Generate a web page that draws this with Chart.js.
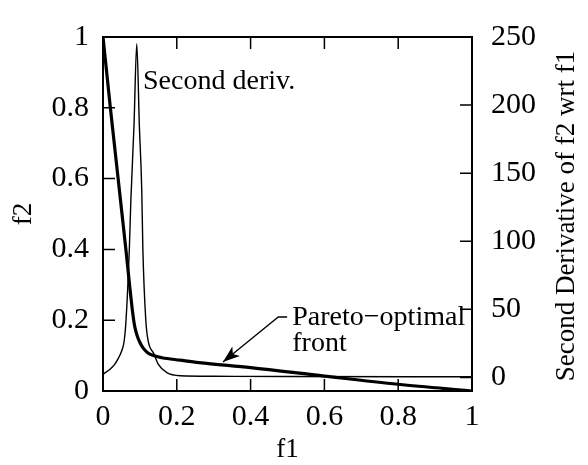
<!DOCTYPE html>
<html><head><meta charset="utf-8">
<script src="https://cdn.jsdelivr.net/npm/chart.js@4.4.1/dist/chart.umd.min.js"></script>
<style>html,body{margin:0;padding:0;background:#fff;}#wrap{width:588px;height:465px;}</style>
</head><body><div id="wrap"><canvas id="c" width="588" height="465"></canvas></div>
<script>
// Pareto-optimal front (f1, f2)
const frontF1 = [0, 0.02, 0.041, 0.062, 0.072, 0.08, 0.086, 0.093, 0.1, 0.109, 0.12, 0.137, 0.16, 0.209, 0.26, 0.4, 0.6, 0.8, 1.0];
const frontF2 = [1, 0.8, 0.6, 0.4, 0.3, 0.225, 0.182, 0.155, 0.137, 0.121, 0.109, 0.1, 0.094, 0.087, 0.08, 0.066, 0.042, 0.019, 0];
// Second derivative of f2 wrt f1
const derivF1  = [0, 0.019, 0.03, 0.0415, 0.05, 0.057, 0.0624, 0.0714, 0.0755, 0.084, 0.0915, 0.0985, 0.105, 0.108, 0.116, 0.123, 0.137, 0.15, 0.173, 0.209, 0.3, 0.5, 1.0];
const derivVal = [2.4, 6, 9, 14, 19, 26, 42, 94.5, 130, 185, 245, 185, 138, 94.5, 42, 26, 17.8, 9.5, 3.5, 1.2, 0.8, 0.6, 0.5];
// tick values
const f1Ticks = [0, 0.2, 0.4, 0.6, 0.8, 1];
const f2Ticks = [0, 0.2, 0.4, 0.6, 0.8, 1];
const derivTicks = [0, 50, 100, 150, 200, 250];
// texts
const xTitle = 'f1';
const yTitle = 'f2';
const y2Title = 'Second Derivative of f2 wrt f1';
const derivLabel = 'Second deriv.';
const frontLabel = ['Pareto\u2212optimal', 'front'];

const FONT = '"Liberation Serif", "Times New Roman", serif';
const FS = 27;   // titles
const TS = 30;   // tick labels
const AS = 28;   // annotations

const frontData = frontF1.map((x, i) => ({x, y: frontF2[i]}));
const derivData = derivF1.map((x, i) => ({x, y: derivVal[i]}));

const setTicks = arr => s => { s.ticks = arr.map(v => ({value: v})); };
const fmt = v => String(Math.round(v * 1000) / 1000);

const decor = {
  id: 'decor',
  afterDraw(chart) {
    const {ctx, chartArea: a, scales} = chart;
    const X = scales.x, Y = scales.y, Y2 = scales.y2;
    ctx.save();
    ctx.strokeStyle = '#000';
    ctx.fillStyle = '#000';
    // inward ticks
    ctx.lineWidth = 1.5;
    const T = 12;
    ctx.beginPath();
    f1Ticks.forEach(v => {
      const px = X.getPixelForValue(v);
      ctx.moveTo(px, a.bottom); ctx.lineTo(px, a.bottom - T);
      ctx.moveTo(px, a.top); ctx.lineTo(px, a.top + T);
    });
    f2Ticks.forEach(v => {
      const py = Y.getPixelForValue(v);
      ctx.moveTo(a.left, py); ctx.lineTo(a.left + T, py);
    });
    derivTicks.forEach(v => {
      const py = Y2.getPixelForValue(v);
      ctx.moveTo(a.right, py); ctx.lineTo(a.right - T, py);
    });
    ctx.stroke();
    // frame
    ctx.lineWidth = 2;
    ctx.strokeRect(a.left, a.top, a.right - a.left, a.bottom - a.top);

    // titles
    ctx.font = FS + 'px ' + FONT;
    ctx.textAlign = 'center';
    ctx.textBaseline = 'middle';
    ctx.fillText(xTitle, (a.left + a.right) / 2, 450);
    const cy = (a.top + a.bottom) / 2;
    ctx.save(); ctx.translate(24, cy); ctx.rotate(-Math.PI / 2); ctx.fillText(yTitle, 0, 0); ctx.restore();
    ctx.font = '27px ' + FONT;
    ctx.save(); ctx.translate(567, cy + 2); ctx.rotate(-Math.PI / 2); ctx.fillText(y2Title, 0, 0); ctx.restore();

    // annotations (baseline anchored)
    ctx.font = AS + 'px ' + FONT;
    ctx.textAlign = 'left';
    ctx.textBaseline = 'alphabetic';
    ctx.fillText(derivLabel, X.getPixelForValue(0.1085), Y.getPixelForValue(0.853));
    const lx = X.getPixelForValue(0.513);
    ctx.fillText(frontLabel[0], lx, Y.getPixelForValue(0.1856));
    ctx.fillText(frontLabel[1], lx, Y.getPixelForValue(0.113));
    // arrow
    const p0 = [X.getPixelForValue(0.499), Y.getPixelForValue(0.209)];
    const p1 = [X.getPixelForValue(0.475), Y.getPixelForValue(0.209)];
    const tip = [X.getPixelForValue(0.325), Y.getPixelForValue(0.082)];
    ctx.lineWidth = 1.3;
    ctx.beginPath(); ctx.moveTo(p0[0], p0[1]); ctx.lineTo(p1[0], p1[1]); ctx.lineTo(tip[0], tip[1]); ctx.stroke();
    const ang = Math.atan2(tip[1] - p1[1], tip[0] - p1[0]);
    const L = 17, W = 6;
    const bx = tip[0] - L * Math.cos(ang), by = tip[1] - L * Math.sin(ang);
    const nx = -Math.sin(ang) * W, ny = Math.cos(ang) * W;
    const ix = tip[0] - L * 0.75 * Math.cos(ang), iy = tip[1] - L * 0.75 * Math.sin(ang);
    ctx.beginPath();
    ctx.moveTo(tip[0], tip[1]);
    ctx.lineTo(bx + nx, by + ny);
    ctx.lineTo(ix, iy);
    ctx.lineTo(bx - nx, by - ny);
    ctx.closePath(); ctx.fill();
    ctx.restore();
  }
};

new Chart(document.getElementById('c'), {
  type: 'line',
  data: {
    datasets: [
      {label: 'front', data: frontData, xAxisID: 'x', yAxisID: 'y', borderColor: '#000', borderWidth: 3.2, pointRadius: 0, cubicInterpolationMode: 'monotone', fill: false},
      {label: 'deriv', data: derivData, xAxisID: 'x', yAxisID: 'y2', borderColor: '#000', borderWidth: 1.4, pointRadius: 0, cubicInterpolationMode: 'monotone', fill: false}
    ]
  },
  options: {
    responsive: false,
    animation: false,
    devicePixelRatio: 1,
    layout: {padding: {top: 23, left: 0, right: 0, bottom: 0}},
    plugins: {legend: {display: false}, tooltip: {enabled: false}},
    scales: {
      x: {
        type: 'linear', position: 'bottom', min: 0, max: 1,
        afterBuildTicks: setTicks(f1Ticks),
        afterFit: s => { s.height = 74; },
        grid: {display: false, drawTicks: false}, border: {display: false},
        ticks: {color: '#000', font: {family: FONT, size: TS}, padding: 8, maxRotation: 0, callback: fmt}
      },
      y: {
        type: 'linear', position: 'left', min: 0, max: 1,
        afterBuildTicks: setTicks(f2Ticks),
        afterFit: s => { s.width = 103; },
        grid: {display: false, drawTicks: false}, border: {display: false},
        ticks: {color: '#000', font: {family: FONT, size: TS}, padding: 14, callback: fmt}
      },
      y2: {
        type: 'linear', position: 'right', min: -10, max: 250,
        afterBuildTicks: setTicks(derivTicks),
        afterFit: s => { s.width = 116; },
        grid: {display: false, drawTicks: false}, border: {display: false},
        ticks: {color: '#000', font: {family: FONT, size: TS}, padding: 19, callback: fmt}
      }
    }
  },
  plugins: [decor]
});
</script>
</body></html>
